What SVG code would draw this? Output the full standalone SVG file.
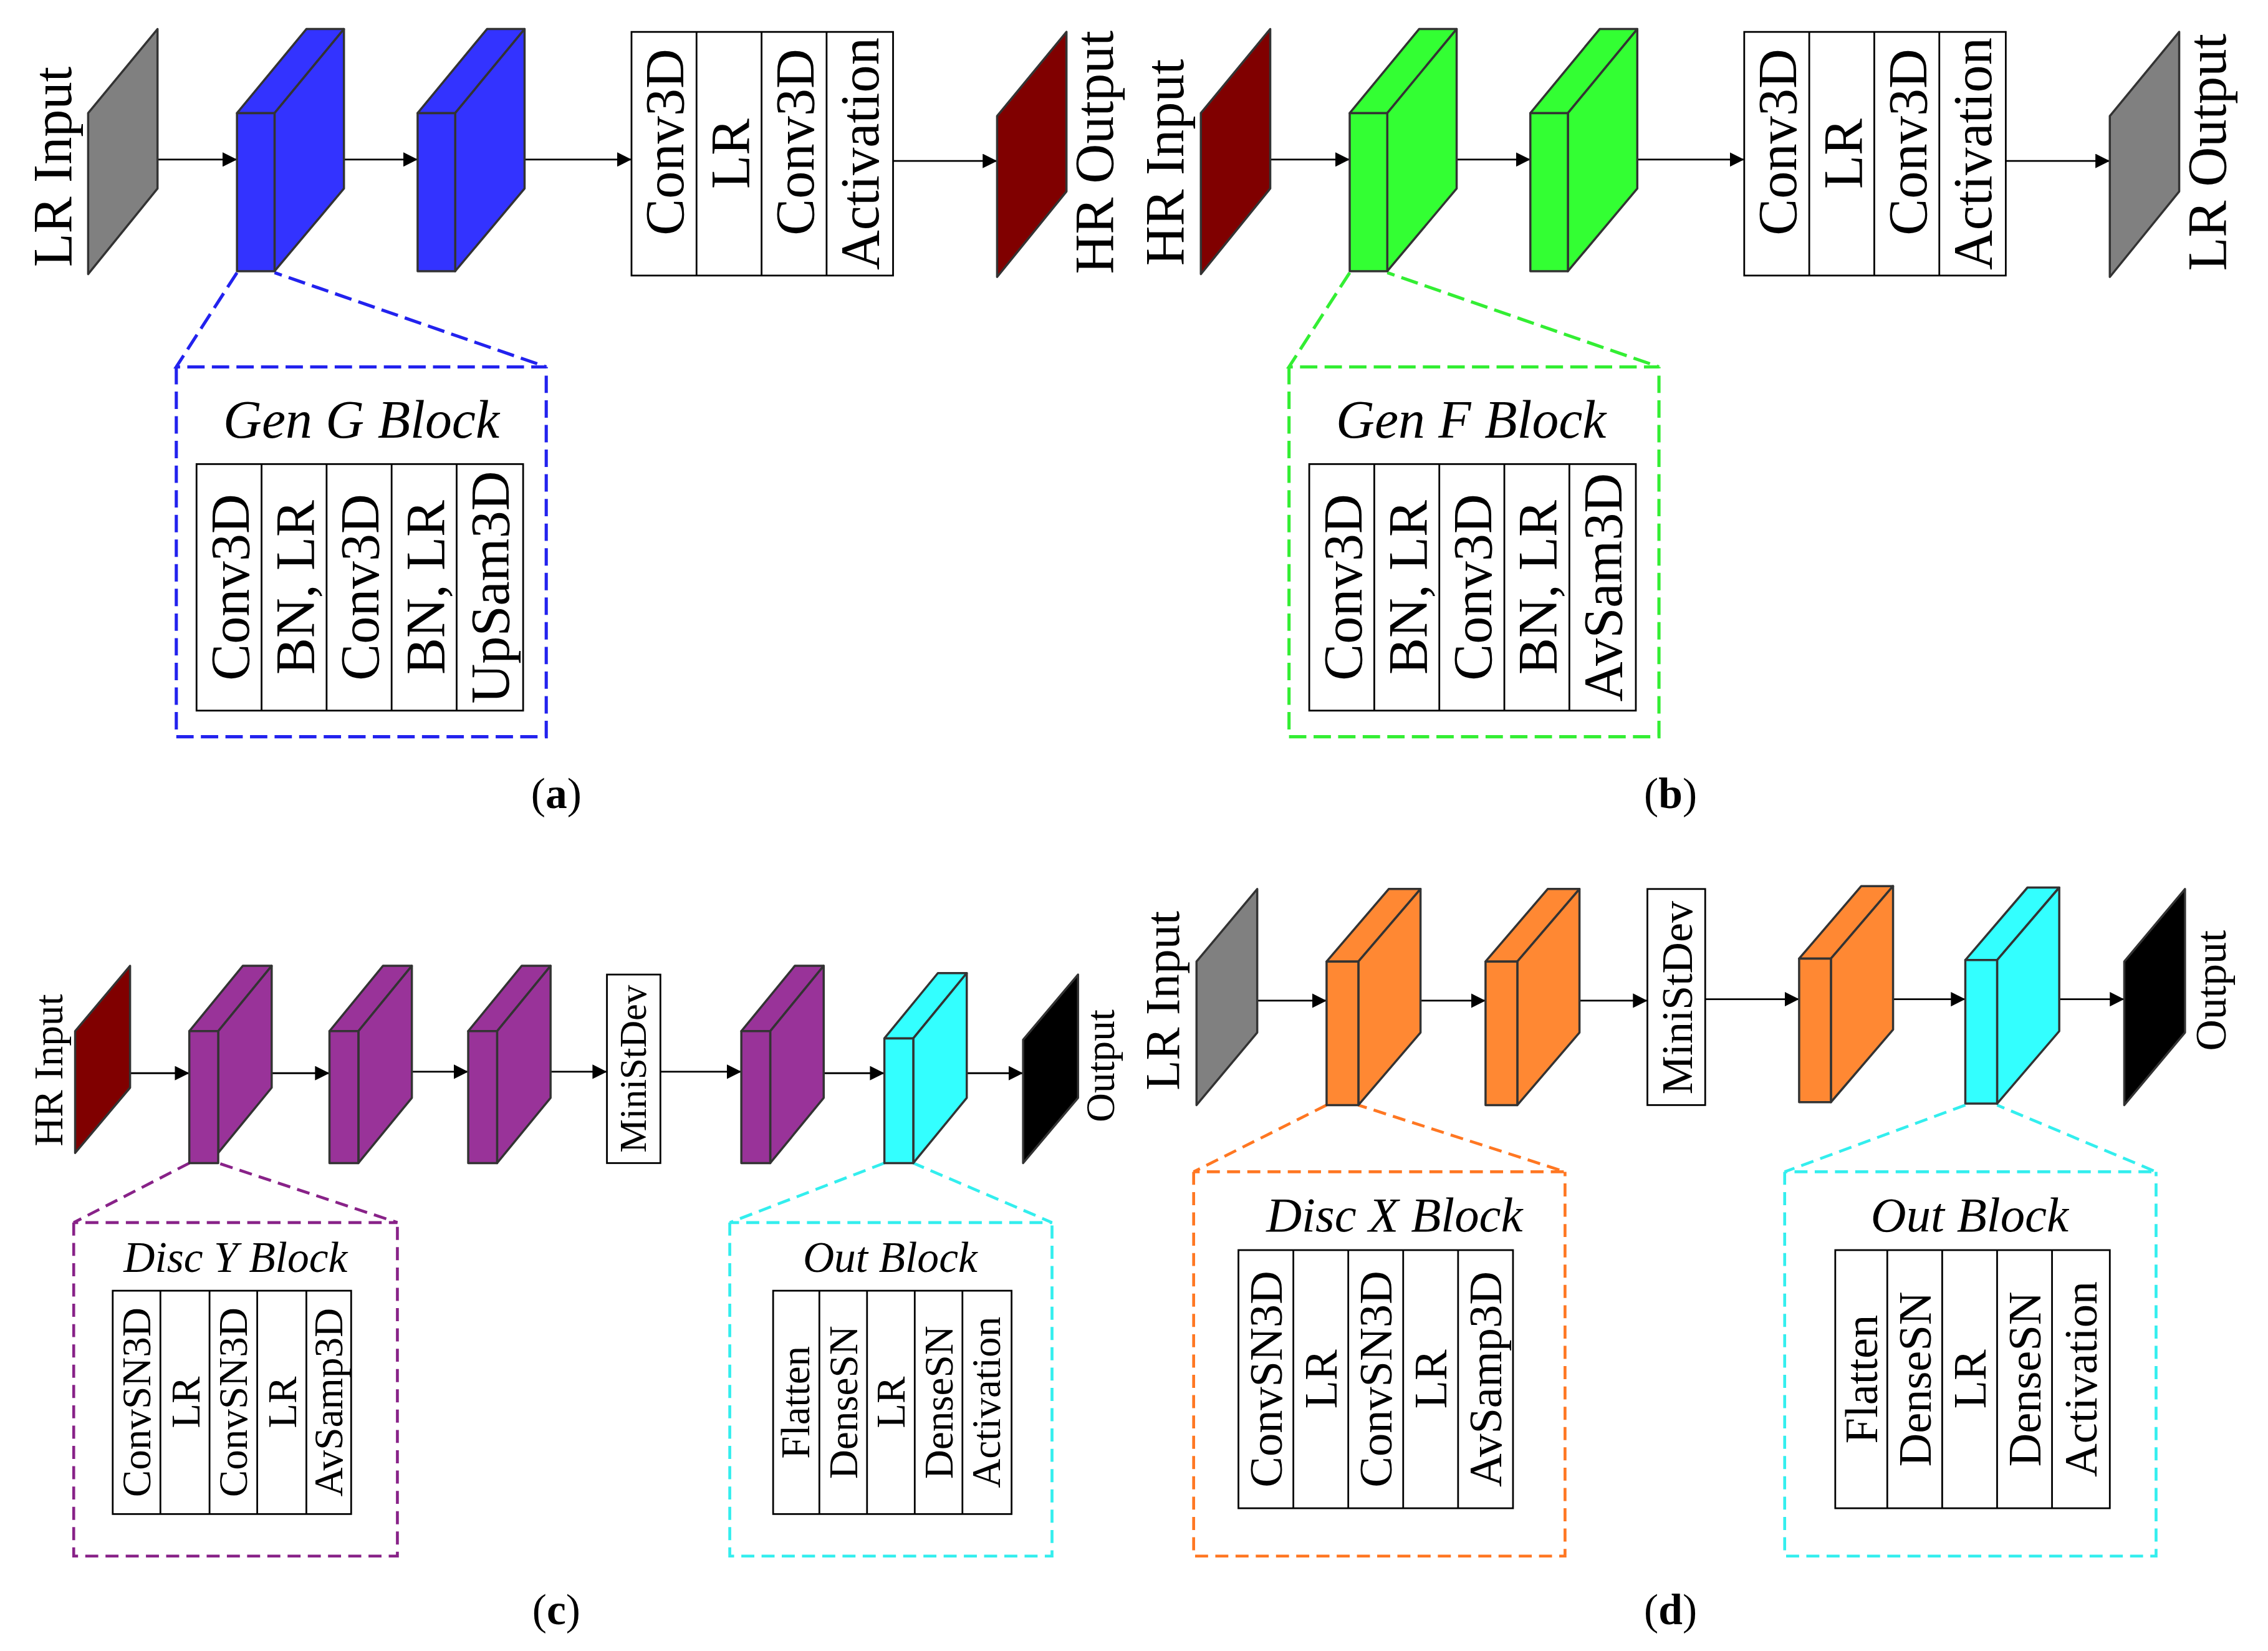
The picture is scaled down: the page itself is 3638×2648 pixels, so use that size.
<svg xmlns="http://www.w3.org/2000/svg" width="3638" height="2648" viewBox="0 0 3638 2648">
<style>
.t{font-family:"Liberation Serif","Times New Roman",serif;fill:#000}
.bx{fill:#fff;stroke:#000;stroke-width:1.2}
.ln{stroke:#000;stroke-width:1.2}
.ar{stroke:#000;stroke-width:1.2;fill:none;marker-end:url(#ah)}
.e{stroke:#333;stroke-width:1.5;stroke-linejoin:round}
.d{fill:none;stroke-width:2;stroke-dasharray:9,5}
.d2{fill:none;stroke-width:2.2;stroke-dasharray:12,5}
.it{font-style:italic}
</style>
<defs>
<marker id="ah" viewBox="0 0 10 10" refX="10" refY="5" markerWidth="10" markerHeight="10" markerUnits="userSpaceOnUse" orient="auto"><path d="M0,0L10,5L0,10z" fill="#000"/></marker>
</defs>
<rect width="3638" height="2648" fill="#fff"/>
<g transform="scale(2.318,2.326)">
<g id="connectors">
<line class="ar" x1="92" y1="110" x2="164" y2="110"/>
<line class="ar" x1="217" y1="110" x2="289" y2="110"/>
<line class="ar" x1="362" y1="110" x2="437" y2="110"/>
<line class="ar" x1="618" y1="111" x2="690" y2="111"/>
<line class="ar" x1="862" y1="110" x2="934" y2="110"/>
<line class="ar" x1="987" y1="110" x2="1059" y2="110"/>
<line class="ar" x1="1132" y1="110" x2="1207" y2="110"/>
<line class="ar" x1="1388" y1="111" x2="1460" y2="111"/>
<line class="ar" x1="76" y1="740" x2="131" y2="740"/>
<line class="ar" x1="172" y1="740" x2="228" y2="740"/>
<line class="ar" x1="268" y1="739" x2="324" y2="739"/>
<line class="ar" x1="365" y1="739" x2="420" y2="739"/>
<line class="ar" x1="457" y1="739" x2="513" y2="739"/>
<line class="ar" x1="557" y1="740" x2="612" y2="740"/>
<line class="ar" x1="653" y1="740" x2="708" y2="740"/>
<line class="ar" x1="855" y1="690" x2="918" y2="690"/>
<line class="ar" x1="965" y1="690" x2="1028" y2="690"/>
<line class="ar" x1="1075" y1="690" x2="1140" y2="690"/>
<line class="ar" x1="1180" y1="689" x2="1245" y2="689"/>
<line class="ar" x1="1295" y1="689" x2="1360" y2="689"/>
<line class="ar" x1="1405" y1="689" x2="1470" y2="689"/>
<path class="d2" stroke="#2222ee" d="M164,188L122,253H378L190,188M122,253V508H378V253"/>
<path class="d2" stroke="#33ee33" d="M934,188L892,253H1148L960,188M892,253V508H1148V253"/>
<path class="d" stroke="#882288" d="M131,802L51,843H275L151,802M51,843V1073H275V843"/>
<path class="d" stroke="#33eeee" d="M612,802L505,843H728L632,802M505,843V1073H728V843"/>
<path class="d" stroke="#ff7722" d="M918,762L826,808H1083L940,762M826,808V1073H1083V808"/>
<path class="d" stroke="#33eeee" d="M1360,762L1235,808H1492L1382,762M1235,808V1073H1492V808"/>
</g>
<g id="a-in"><polygon class="e" fill="#808080" points="61,78 109,20 109,130 61,189"/><text class="t" font-size="38" text-anchor="middle" transform="translate(49,115) rotate(-90)">LR Input</text></g>
<g id="a-b1" fill="#3333ff"><polygon class="e" points="164,78 212,20 238,20 190,78"/><polygon class="e" points="190,78 238,20 238,130 190,187"/><rect class="e" x="164" y="78" width="26" height="109"/></g>
<g id="a-b2" fill="#3333ff"><polygon class="e" points="289,78 337,20 363,20 315,78"/><polygon class="e" points="315,78 363,20 363,130 315,187"/><rect class="e" x="289" y="78" width="26" height="109"/></g>
<g id="a-stack"><rect class="bx" x="437" y="22" width="181" height="168"/><path class="ln" d="M482,22V190M527,22V190M572,22V190"/>
<g class="t" font-size="38" text-anchor="middle"><text transform="translate(473,98) rotate(-90)">Conv3D</text><text transform="translate(518,106) rotate(-90)">LR</text><text transform="translate(563,98) rotate(-90)">Conv3D</text><text transform="translate(608,106) rotate(-90)">Activation</text></g></g>
<g id="a-out"><polygon class="e" fill="#800000" points="690,80 738,22 738,132 690,191"/><text class="t" font-size="38" text-anchor="middle" transform="translate(770,105) rotate(-90)">HR Output</text></g>
<g id="a-zoom"><text class="t it" font-size="37" x="250" y="302" text-anchor="middle">Gen G Block</text><rect class="bx" x="136" y="320" width="226" height="170"/><path class="ln" d="M181,320V490M226,320V490M271,320V490M316,320V490"/>
<g class="t" font-size="38" text-anchor="middle"><text transform="translate(172,405) rotate(-90)">Conv3D</text><text transform="translate(217,405) rotate(-90)">BN, LR</text><text transform="translate(262,405) rotate(-90)">Conv3D</text><text transform="translate(307,405) rotate(-90)">BN, LR</text><text transform="translate(352,405) rotate(-90)">UpSam3D</text></g></g>
<g id="b-in"><polygon class="e" fill="#800000" points="831,78 879,20 879,130 831,189"/><text class="t" font-size="38" text-anchor="middle" transform="translate(819,112) rotate(-90)">HR Input</text></g>
<g id="b-b1" fill="#33ff33"><polygon class="e" points="934,78 982,20 1008,20 960,78"/><polygon class="e" points="960,78 1008,20 1008,130 960,187"/><rect class="e" x="934" y="78" width="26" height="109"/></g>
<g id="b-b2" fill="#33ff33"><polygon class="e" points="1059,78 1107,20 1133,20 1085,78"/><polygon class="e" points="1085,78 1133,20 1133,130 1085,187"/><rect class="e" x="1059" y="78" width="26" height="109"/></g>
<g id="b-stack"><rect class="bx" x="1207" y="22" width="181" height="168"/><path class="ln" d="M1252,22V190M1297,22V190M1342,22V190"/>
<g class="t" font-size="38" text-anchor="middle"><text transform="translate(1243,98) rotate(-90)">Conv3D</text><text transform="translate(1288,106) rotate(-90)">LR</text><text transform="translate(1333,98) rotate(-90)">Conv3D</text><text transform="translate(1378,106) rotate(-90)">Activation</text></g></g>
<g id="b-out"><polygon class="e" fill="#808080" points="1460,80 1508,22 1508,132 1460,191"/><text class="t" font-size="38" text-anchor="middle" transform="translate(1540,105) rotate(-90)">LR Output</text></g>
<g id="b-zoom"><text class="t it" font-size="37" x="1018" y="302" text-anchor="middle">Gen F Block</text><rect class="bx" x="906" y="320" width="226" height="170"/><path class="ln" d="M951,320V490M996,320V490M1041,320V490M1086,320V490"/>
<g class="t" font-size="38" text-anchor="middle"><text transform="translate(942,405) rotate(-90)">Conv3D</text><text transform="translate(987,405) rotate(-90)">BN, LR</text><text transform="translate(1032,405) rotate(-90)">Conv3D</text><text transform="translate(1077,405) rotate(-90)">BN, LR</text><text transform="translate(1122,405) rotate(-90)">AvSam3D</text></g></g>
<text class="t" font-size="30" x="385" y="557" text-anchor="middle">(<tspan font-weight="bold">a</tspan>)</text>
<text class="t" font-size="30" x="1156" y="557" text-anchor="middle">(<tspan font-weight="bold">b</tspan>)</text>
<g id="c-in"><polygon class="e" fill="#800000" points="52,711 90,666 90,750 52,795"/><text class="t" font-size="28" text-anchor="middle" transform="translate(43,738) rotate(-90)">HR Input</text></g>
<g id="c-b1" fill="#993399"><polygon class="e" points="131,711 168,666 188,666 151,711"/><polygon class="e" points="151,711 188,666 188,750 151,795"/><rect class="e" x="131" y="711" width="20" height="91"/></g>
<g id="c-b2" fill="#993399"><polygon class="e" points="228,711 265,666 285,666 248,711"/><polygon class="e" points="248,711 285,666 285,757 248,802"/><rect class="e" x="228" y="711" width="20" height="91"/></g>
<g id="c-b3" fill="#993399"><polygon class="e" points="324,711 361,666 381,666 344,711"/><polygon class="e" points="344,711 381,666 381,757 344,802"/><rect class="e" x="324" y="711" width="20" height="91"/></g>
<g id="c-mini"><rect class="bx" x="420" y="672" width="37" height="130"/><text class="t" font-size="26" text-anchor="middle" transform="translate(447,737) rotate(-90)">MiniStDev</text></g>
<g id="c-b4" fill="#993399"><polygon class="e" points="513,711 550,666 570,666 533,711"/><polygon class="e" points="533,711 570,666 570,757 533,802"/><rect class="e" x="513" y="711" width="20" height="91"/></g>
<g id="c-b5" fill="#33ffff"><polygon class="e" points="612,716 649,671 669,671 632,716"/><polygon class="e" points="632,716 669,671 669,757 632,802"/><rect class="e" x="612" y="716" width="20" height="86"/></g>
<g id="c-out"><polygon class="e" fill="#000" points="708,717 746,672 746,757 708,802"/><text class="t" font-size="28" text-anchor="middle" transform="translate(771,735) rotate(-90)">Output</text></g>
<g id="c-zoom1"><text class="t it" font-size="30" x="163" y="877" text-anchor="middle">Disc Y Block</text><rect class="bx" x="78" y="890" width="165" height="154"/><path class="ln" d="M111,890V1044M145,890V1044M178,890V1044M212,890V1044"/>
<g class="t" font-size="28" text-anchor="middle"><text transform="translate(104,967) rotate(-90)">ConvSN3D</text><text transform="translate(138,967) rotate(-90)">LR</text><text transform="translate(171,967) rotate(-90)">ConvSN3D</text><text transform="translate(205,967) rotate(-90)">LR</text><text transform="translate(237,967) rotate(-90)">AvSamp3D</text></g></g>
<g id="c-zoom2"><text class="t it" font-size="30" x="616" y="877" text-anchor="middle">Out Block</text><rect class="bx" x="535" y="890" width="165" height="154"/><path class="ln" d="M567,890V1044M600,890V1044M633,890V1044M666,890V1044"/>
<g class="t" font-size="28" text-anchor="middle"><text transform="translate(560,967) rotate(-90)">Flatten</text><text transform="translate(593,967) rotate(-90)">DenseSN</text><text transform="translate(626,967) rotate(-90)">LR</text><text transform="translate(659,967) rotate(-90)">DenseSN</text><text transform="translate(692,967) rotate(-90)">Activation</text></g></g>
<g id="d-in"><polygon class="e" fill="#808080" points="828,663 870,613 870,712 828,762"/><text class="t" font-size="34" text-anchor="middle" transform="translate(816,690) rotate(-90)">LR Input</text></g>
<g id="d-b1" fill="#ff8833"><polygon class="e" points="918,663 961,613 983,613 940,663"/><polygon class="e" points="940,663 983,613 983,712 940,762"/><rect class="e" x="918" y="663" width="22" height="99"/></g>
<g id="d-b2" fill="#ff8833"><polygon class="e" points="1028,663 1071,613 1093,613 1050,663"/><polygon class="e" points="1050,663 1093,613 1093,712 1050,762"/><rect class="e" x="1028" y="663" width="22" height="99"/></g>
<g id="d-mini"><rect class="bx" x="1140" y="613" width="40" height="149"/><text class="t" font-size="30" text-anchor="middle" transform="translate(1171,688) rotate(-90)">MiniStDev</text></g>
<g id="d-b3" fill="#ff8833"><polygon class="e" points="1245,661 1288,611 1310,611 1267,661"/><polygon class="e" points="1267,661 1310,611 1310,710 1267,760"/><rect class="e" x="1245" y="661" width="22" height="99"/></g>
<g id="d-b4" fill="#33ffff"><polygon class="e" points="1360,662 1403,612 1425,612 1382,662"/><polygon class="e" points="1382,662 1425,612 1425,711 1382,761"/><rect class="e" x="1360" y="662" width="22" height="99"/></g>
<g id="d-out"><polygon class="e" fill="#000" points="1470,663 1512,613 1512,712 1470,762"/><text class="t" font-size="30" text-anchor="middle" transform="translate(1540,683) rotate(-90)">Output</text></g>
<g id="d-zoom1"><text class="t it" font-size="34" x="965" y="849" text-anchor="middle">Disc X Block</text><rect class="bx" x="857" y="862" width="190" height="178"/><path class="ln" d="M895,862V1040M933,862V1040M971,862V1040M1009,862V1040"/>
<g class="t" font-size="32" text-anchor="middle"><text transform="translate(887,951) rotate(-90)">ConvSN3D</text><text transform="translate(925,951) rotate(-90)">LR</text><text transform="translate(963,951) rotate(-90)">ConvSN3D</text><text transform="translate(1001,951) rotate(-90)">LR</text><text transform="translate(1039,951) rotate(-90)">AvSamp3D</text></g></g>
<g id="d-zoom2"><text class="t it" font-size="34" x="1363" y="849" text-anchor="middle">Out Block</text><rect class="bx" x="1270" y="862" width="190" height="178"/><path class="ln" d="M1306,862V1040M1344,862V1040M1382,862V1040M1420,862V1040"/>
<g class="t" font-size="32" text-anchor="middle"><text transform="translate(1299,951) rotate(-90)">Flatten</text><text transform="translate(1336,951) rotate(-90)">DenseSN</text><text transform="translate(1374,951) rotate(-90)">LR</text><text transform="translate(1412,951) rotate(-90)">DenseSN</text><text transform="translate(1451,951) rotate(-90)">Activation</text></g></g>
<text class="t" font-size="30" x="385" y="1120" text-anchor="middle">(<tspan font-weight="bold">c</tspan>)</text>
<text class="t" font-size="30" x="1156" y="1120" text-anchor="middle">(<tspan font-weight="bold">d</tspan>)</text>
</g>
</svg>
